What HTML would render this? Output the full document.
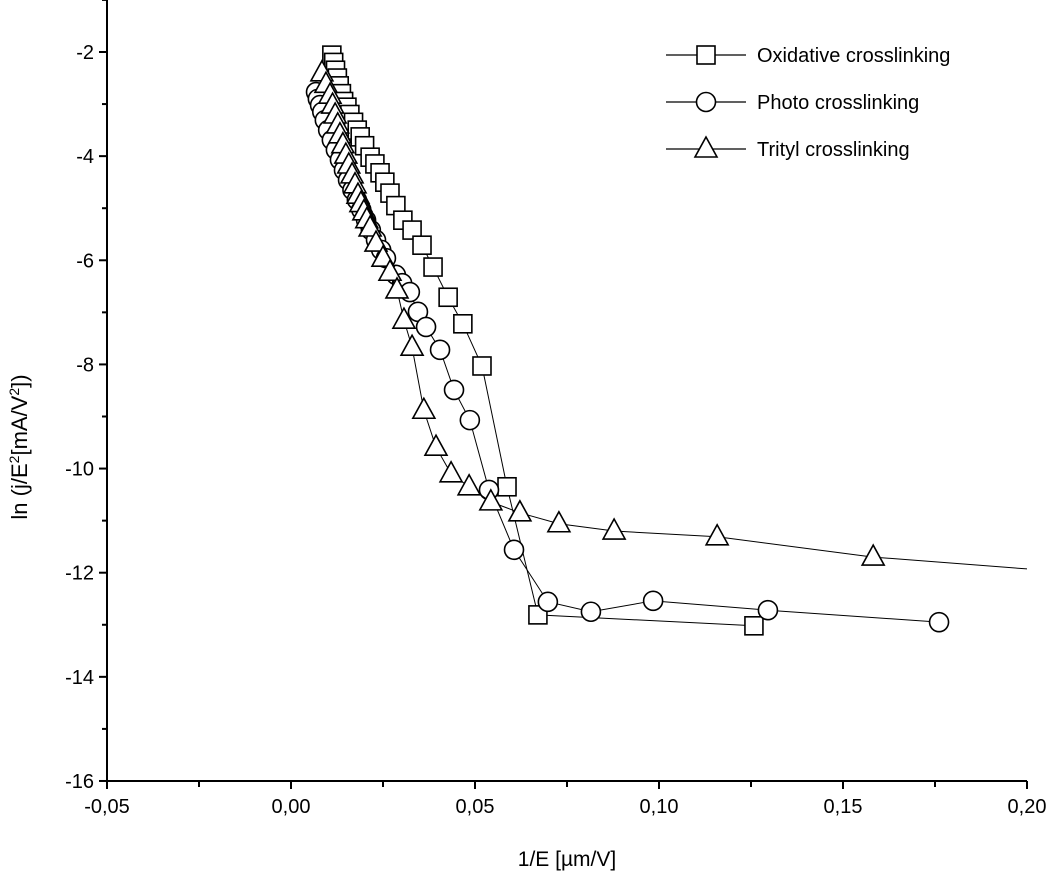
<!DOCTYPE html>
<html><head><meta charset="utf-8"><style>
body{margin:0;background:#fff}
svg{display:block;font-family:"Liberation Sans",sans-serif}
</style></head><body>
<svg id="chart" width="1048" height="875" viewBox="0 0 1048 875"></svg>
<script>
const xTicks=[-0.05,0,0.05,0.10,0.15,0.20];
const xTickLabels=["-0,05","0,00","0,05","0,10","0,15","0,20"];
const yTicks=[-2,-4,-6,-8,-10,-12,-14,-16];
const yTickLabels=["-2","-4","-6","-8","-10","-12","-14","-16"];
const seriesNames=["Oxidative crosslinking","Photo crosslinking","Trityl crosslinking"];
const oxX=[0.0111,0.0116,0.0121,0.0126,0.0131,0.0137,0.0143,0.0152,0.0160,0.0170,0.0180,0.0188,0.0200,0.0215,0.0228,0.0242,0.0255,0.0269,0.0285,0.0304,0.0329,0.0356,0.0386,0.0427,0.0467,0.0519,0.0587,0.0671,0.1258];
const oxY=[-2.06,-2.2,-2.35,-2.5,-2.65,-2.8,-2.95,-3.06,-3.2,-3.35,-3.5,-3.63,-3.8,-4.02,-4.15,-4.32,-4.5,-4.71,-4.95,-5.23,-5.42,-5.71,-6.13,-6.71,-7.22,-8.03,-10.35,-12.81,-13.02];
const phX=[0.0068,0.0073,0.0079,0.0085,0.0092,0.0101,0.0111,0.0122,0.0133,0.0144,0.0155,0.0167,0.0179,0.0191,0.0204,0.0217,0.0231,0.0245,0.0258,0.0285,0.0302,0.0323,0.0345,0.0367,0.0405,0.0443,0.0486,0.0538,0.0606,0.0698,0.0815,0.0984,0.1296,0.1761];
const phY=[-2.77,-2.9,-3.02,-3.15,-3.31,-3.5,-3.69,-3.88,-4.07,-4.27,-4.46,-4.65,-4.84,-5.03,-5.23,-5.42,-5.61,-5.8,-5.96,-6.28,-6.44,-6.61,-6.99,-7.28,-7.72,-8.49,-9.07,-10.41,-11.56,-12.56,-12.75,-12.54,-12.72,-12.95];
const trX=[0.0084,0.0095,0.0106,0.0113,0.0120,0.0127,0.0133,0.0141,0.0149,0.0157,0.0166,0.0174,0.0182,0.0190,0.0198,0.0206,0.0215,0.0231,0.0250,0.0269,0.0288,0.0307,0.0329,0.0361,0.0394,0.0435,0.0484,0.0543,0.0622,0.0728,0.0878,0.1158,0.1582,0.25];
const trY=[-2.40,-2.62,-2.83,-3.02,-3.21,-3.4,-3.59,-3.78,-3.98,-4.17,-4.36,-4.55,-4.75,-4.91,-5.07,-5.22,-5.38,-5.67,-5.96,-6.23,-6.57,-7.15,-7.67,-8.88,-9.59,-10.10,-10.35,-10.64,-10.85,-11.06,-11.20,-11.31,-11.70,-12.20];

const L=107,R=1027,T=0,B=781;
const X=v=>L+(v+0.05)/0.25*(R-L);
const Y=v=>52+(-2-v)*52.07;
const svg=document.getElementById('chart');
const NS='http://www.w3.org/2000/svg';
function mk(t,a,p){const e=document.createElementNS(NS,t);for(const k in a)e.setAttribute(k,a[k]);(p||svg).appendChild(e);return e;}

const defs=mk('defs',{});
const cp=mk('clipPath',{id:'clip'},defs);mk('rect',{x:L,y:T,width:R-L,height:B-T},cp);

let e=mk('line',{x1:L,y1:T,x2:L,y2:B+1,stroke:'#000','stroke-width':2});


e=mk('line',{x1:L-1,y1:B,x2:R,y2:B,stroke:'#000','stroke-width':2});



xTicks.forEach((v,i)=>{
  mk('line',{x1:X(v),y1:B,x2:X(v),y2:B+8,stroke:'#000','stroke-width':2});
  if(i<xTicks.length-1)mk('line',{x1:X(v+0.025),y1:B,x2:X(v+0.025),y2:B+6,stroke:'#000','stroke-width':2});
  const t=mk('text',{x:X(v),y:B+32,'text-anchor':'middle','font-size':20});
  t.textContent=xTickLabels[i];
  
  
});
yTicks.forEach((v,i)=>{
  mk('line',{x1:L-8,y1:Y(v),x2:L,y2:Y(v),stroke:'#000','stroke-width':2});
  if(v>-16)mk('line',{x1:L-5,y1:Y(v-1),x2:L,y2:Y(v-1),stroke:'#000','stroke-width':2});
  const t=mk('text',{x:L-13,y:Y(v)+7,'text-anchor':'end','font-size':20});
  t.textContent=yTickLabels[i];
  
  
});
mk('line',{x1:L-5,y1:Y(-1),x2:L,y2:Y(-1),stroke:'#000','stroke-width':2});

let t=mk('text',{x:567,y:866,'text-anchor':'middle','font-size':21});
t.textContent='1/E [µm/V]';


t=mk('text',{transform:'translate(27,447) rotate(-90)','text-anchor':'middle','font-size':22});
t.innerHTML='ln (j/E<tspan dy="-8" font-size="14">2</tspan><tspan dy="8">[mA/V</tspan><tspan dy="-8" font-size="14">2</tspan><tspan dy="8">])</tspan>';



function marker(kind,cx,cy,g){
  const st={fill:'#fff',stroke:'#000','stroke-width':1.6};
  if(kind===0)return mk('rect',Object.assign({x:cx-9,y:cy-9,width:18,height:18},st),g);
  if(kind===1)return mk('circle',Object.assign({cx:cx,cy:cy,r:9.5},st),g);
  return mk('polygon',Object.assign({points:`${cx},${cy-12} ${cx-11},${cy+8} ${cx+11},${cy+8}`},st),g);
}
const all=[[oxX,oxY],[phX,phY],[trX,trY]];
const sNames=['series-oxidative','series-photo','series-trityl'];
all.forEach((s,k)=>{
  const g=mk('g',{'clip-path':'url(#clip)'});
  
  
  mk('polyline',{points:s[0].map((v,i)=>X(v)+','+Y(s[1][i])).join(' '),fill:'none',stroke:'#000','stroke-width':1},g);
  s[0].forEach((v,i)=>{
    const m=marker(k,X(v),Y(s[1][i]),g);
    
    
  });
});

seriesNames.forEach((n,k)=>{
  const y=55+k*47;
  const g=mk('g',{});
  
  
  mk('line',{x1:666,y1:y,x2:746,y2:y,stroke:'#000','stroke-width':1.2},g);
  marker(k,706,y,g);
  const tt=mk('text',{x:757,y:y+7,'font-size':20},g);
  tt.textContent=n;
});
</script>
</body></html>
